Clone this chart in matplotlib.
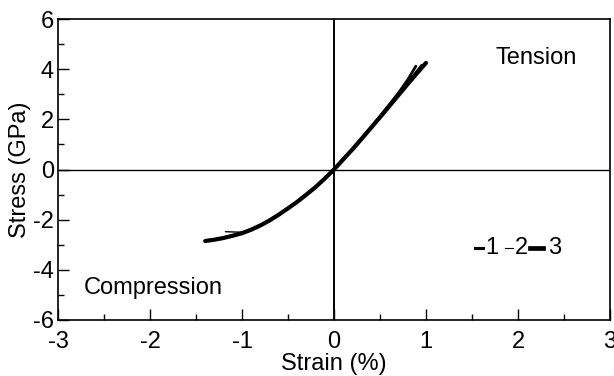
import matplotlib
matplotlib.use("Agg")
import matplotlib.pyplot as plt
from matplotlib.ticker import MultipleLocator
from matplotlib.lines import Line2D

plt.rcParams['font.family'] = ['Liberation Sans', 'DejaVu Sans']

# Data (strain %, stress GPa)
strain_1 = [-1.38, -1.3, -1.2, -1.1, -1.0, -0.9, -0.8, -0.7, -0.6, -0.5, -0.4, -0.3, -0.2, -0.1,
            0.0, 0.1, 0.2, 0.3, 0.4, 0.5, 0.6, 0.7, 0.8, 0.89]
stress_1 = [-2.83, -2.79, -2.72, -2.63, -2.53, -2.39, -2.22, -2.02, -1.79, -1.54, -1.28, -0.99, -0.69, -0.35,
            0.0, 0.41, 0.82, 1.25, 1.68, 2.12, 2.58, 3.05, 3.57, 4.12]
strain_2 = [-1.18, -1.1, -1.0, -0.9, -0.8, -0.7, -0.6, -0.5, -0.4, -0.3, -0.2, -0.1,
            0.0, 0.1, 0.2, 0.3, 0.4, 0.5, 0.6, 0.7, 0.8, 0.9, 0.95]
stress_2 = [-2.48, -2.49, -2.50, -2.39, -2.22, -2.02, -1.79, -1.54, -1.28, -0.99, -0.69, -0.35,
            0.0, 0.40, 0.81, 1.23, 1.66, 2.10, 2.55, 3.00, 3.48, 3.95, 4.18]
strain_3 = [-1.40, -1.3, -1.2, -1.1, -1.0, -0.9, -0.8, -0.7, -0.6, -0.5, -0.4, -0.3, -0.2, -0.1,
            0.0, 0.1, 0.2, 0.3, 0.4, 0.5, 0.6, 0.7, 0.8, 0.9, 1.0]
stress_3 = [-2.85, -2.80, -2.73, -2.64, -2.54, -2.40, -2.23, -2.03, -1.80, -1.55, -1.29, -1.00, -0.70, -0.36,
            0.0, 0.40, 0.80, 1.22, 1.65, 2.08, 2.52, 2.96, 3.40, 3.83, 4.25]

x_ticks = [-3, -2, -1, 0, 1, 2, 3]
y_ticks = [-6, -4, -2, 0, 2, 4, 6]

fig = plt.figure(figsize=(6.14, 3.76), dpi=100)
ax = fig.add_axes([58/614, 1-320/376, 552/614, 301/376])

ax.plot(strain_1, stress_1, color='black', lw=2.0, solid_capstyle='round', solid_joinstyle='round')
ax.plot(strain_2, stress_2, color='black', lw=1.0, solid_capstyle='round', solid_joinstyle='round')
ax.plot(strain_3, stress_3, color='black', lw=3.0, solid_capstyle='round', solid_joinstyle='round')

ax.axhline(0, color='black', lw=1.0)
ax.axvline(0, color='black', lw=1.4)

ax.set_xlim(-3, 3)
ax.set_ylim(-6, 6)
ax.set_xticks(x_ticks)
ax.set_yticks(y_ticks)
ax.set_xticklabels([str(v) for v in x_ticks])
ax.set_yticklabels([str(v) for v in y_ticks])
ax.xaxis.set_minor_locator(MultipleLocator(0.5))
ax.yaxis.set_minor_locator(MultipleLocator(1))
ax.tick_params(which='both', direction='in', top=False, right=False, labelsize=17, width=1.0, color='black')
ax.tick_params(which='major', length=8)
ax.tick_params(which='minor', length=4)
ax.tick_params(axis='x', pad=8)
ax.tick_params(axis='y', pad=3)
for s in ax.spines.values():
    s.set_linewidth(1.2)

ax.set_xlabel('Strain (%)', fontsize=17, labelpad=0)
ax.set_ylabel('Stress (GPa)', fontsize=17, labelpad=1)

ax.text(2.2, 4.45, 'Tension', fontsize=17, ha='center', va='center')
ax.text(-1.97, -4.72, 'Compression', fontsize=17, ha='center', va='center')

# legend-like key: dashes of different weights followed by numbers
key_y = -3.13
key = [(1.53, 1.62, 2.2, '1', 1.72), (1.86, 1.95, 0.8, '2', 2.04), (2.13, 2.27, 3.4, '3', 2.40)]
for x0, x1, lw, lab, xt in key:
    ax.add_line(Line2D([x0, x1], [key_y, key_y], color='black', lw=lw))
    ax.text(xt, key_y, lab, fontsize=17, ha='center', va='center')

fig.savefig('out.png', dpi=100)
